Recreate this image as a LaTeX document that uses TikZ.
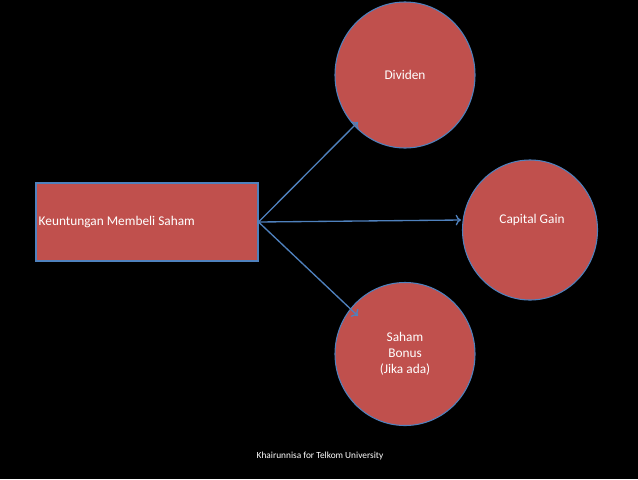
\documentclass[tikz,border=0pt]{standalone}
\usepackage{fontspec}
\setmainfont{Carlito}
\usetikzlibrary{shapes.geometric,arrows.meta}
\definecolor{boxred}{HTML}{C0504D}
\definecolor{edgeblue}{HTML}{4F81BD}
\tikzset{
  bubble/.style={draw=edgeblue,fill=boxred,shape=ellipse,inner sep=0pt,text=white,font=\normalsize,align=center,thick},
  link/.style={draw=edgeblue,line width=1pt,-{To[length=4pt,width=8pt]}}
}
\begin{document}
\begin{tikzpicture}[x=0.75pt,y=-0.75pt]
	\fill[black] (0,0) rectangle (638,479);
	\node[draw=edgeblue,fill=boxred,thick,minimum width=222*0.75pt,minimum height=78*0.75pt,inner sep=2pt] (KM) at (147,222) {};
	\node[text=white,font=\normalsize,anchor=west] (KT) at (34,222) {Keuntungan Membeli Saham};
	\node[bubble,minimum width=140*0.75pt,minimum height=146*0.75pt] (DV) at (405,75) {Dividen};
	\node[bubble,minimum width=135*0.75pt,minimum height=140*0.75pt] (CG) at (530,230) {};
	\node[text=white,font=\normalsize] (CT) at (532,220) {Capital Gain};
	\node[bubble,minimum width=140*0.75pt,minimum height=143*0.75pt] (SB) at (405,354) {Saham\\Bonus\\(Jika ada)};
	\node[text=white,font=\scriptsize] (FT) at (320,456) {Khairunnisa for Telkom University};
	\coordinate (CGin) at (461,220);

	\draw[link] (KM.east)--(358,122);
	\draw[link] (KM.east)--(CGin);
	\draw[link] (KM.east)--(358,316);
\end{tikzpicture}
\end{document}
